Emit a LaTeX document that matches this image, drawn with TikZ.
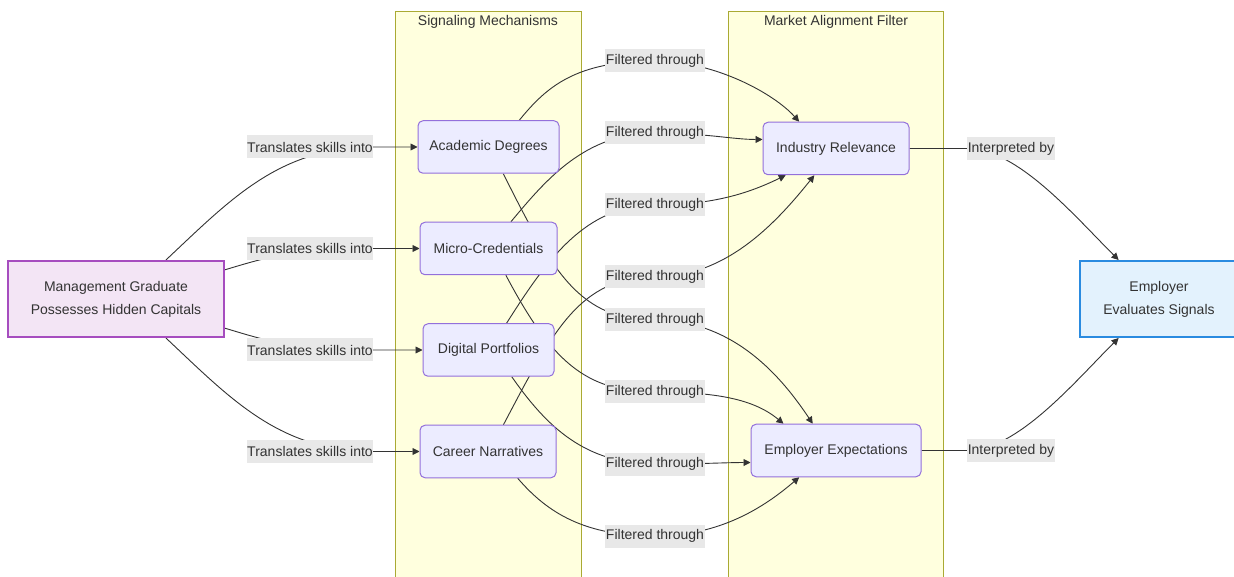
\documentclass[tikz,border=0pt]{standalone}
\usepackage{fontspec}
\setmainfont{Liberation Sans}
\usetikzlibrary{arrows.meta}
\pgfdeclarelayer{bg}
\pgfdeclarelayer{edges}
\pgfsetlayers{bg,edges,main}

\definecolor{clusterfill}{HTML}{FFFFDE}
\definecolor{clusterline}{HTML}{AAAA33}
\definecolor{nodefill}{HTML}{ECECFF}
\definecolor{nodeline}{HTML}{9370DB}
\definecolor{txt}{HTML}{333333}
\definecolor{lblfill}{HTML}{E8E8E8}
\definecolor{gradfill}{HTML}{F3E5F5}
\definecolor{gradline}{HTML}{A64DBF}
\definecolor{empfill}{HTML}{E3F2FD}
\definecolor{empline}{HTML}{2A8BE0}

\begin{document}
\begin{tikzpicture}[x=1pt,y=1pt,
  font=\fontsize{14}{17}\selectfont, text=txt,
  box/.style={rectangle, rounded corners=5pt, draw=nodeline, fill=nodefill,
    line width=1pt, minimum height=52.5pt, inner sep=0pt},
  bigbox/.style={rectangle, line width=2pt, minimum width=216pt,
    minimum height=76pt, align=center, inner sep=0pt,
    font=\fontsize{14}{23}\selectfont},
  lbl/.style={fill=lblfill, inner xsep=0.5pt, inner ysep=0pt, minimum height=23pt},
  cluster/.style={draw=clusterline, fill=clusterfill, line width=1pt},
  edge/.style={draw=txt, line width=0.9pt, -{Triangle[length=7pt,width=7pt]}}
]
\useasboundingbox (0,0) rectangle (1234,576);

% subgraph frames
\begin{pgfonlayer}{bg}
  \path[cluster] (395,-10) rectangle (581,564);
  \path[cluster] (728,-10) rectangle (943,564);
\end{pgfonlayer}
\node (sigtitle) at (488,554) {Signaling Mechanisms};
\node (mkttitle) at (836,554) {Market Alignment Filter};

% end points
\node[bigbox, draw=gradline, fill=gradfill] (mg) at (116,277)
  {Management Graduate\\Possesses Hidden Capitals};
\node[bigbox, draw=empline, fill=empfill, minimum width=158pt] (emp) at (1159,277)
  {Employer\\Evaluates Signals};

% signaling mechanisms
\node[box, minimum width=141pt] (acad)  at (488.5,429)   {Academic Degrees};
\node[box, minimum width=137pt] (micro) at (488.5,327.5) {Micro-Credentials};
\node[box, minimum width=131pt] (port)  at (488.5,226)   {Digital Portfolios};
\node[box, minimum width=136pt] (narr)  at (488,124.5)   {Career Narratives};

% market alignment filter
\node[box, minimum width=146pt] (ind)  at (836,427.5) {Industry Relevance};
\node[box, minimum width=170pt] (expc) at (836,125.5) {Employer Expectations};

% edge labels
\node[lbl] (t1) at (310,429)   {Translates skills into};
\node[lbl] (t2) at (310,327.5) {Translates skills into};
\node[lbl] (t3) at (310,226)   {Translates skills into};
\node[lbl] (t4) at (310,124.5) {Translates skills into};

\node[lbl] (f1) at (655,515) {Filtered through};
\node[lbl] (f2) at (655,443) {Filtered through};
\node[lbl] (f3) at (655,371) {Filtered through};
\node[lbl] (f4) at (655,299) {Filtered through};
\node[lbl] (f5) at (655,256) {Filtered through};
\node[lbl] (f6) at (655,184) {Filtered through};
\node[lbl] (f7) at (655,112) {Filtered through};
\node[lbl] (f8) at (655,40)  {Filtered through};

\node[lbl] (i1) at (1011,427.5) {Interpreted by};
\node[lbl] (i2) at (1011,125.5) {Interpreted by};

\begin{pgfonlayer}{edges}
  % graduate to signals
  \draw[edge] (mg.38)  .. controls +(65,61)  and +(-94,0) .. (t1.east) -- (acad.west);
  \draw[edge] (mg.15)  .. controls +(40,12)  and +(-80,0) .. (t2.east) -- (micro.west);
  \draw[edge] (mg.-15) .. controls +(40,-12) and +(-80,0) .. (t3.east) -- (port.west);
  \draw[edge] (mg.-38) .. controls +(65,-61) and +(-94,0) .. (t4.east) -- (narr.west);

  % signals to industry relevance
  \draw[edge] (acad.41)  .. controls +(27,33) and +(-80,0) .. (f1.center)
              .. controls +(60,0) and +(-25,28) .. (ind.144);
  \draw[edge] (micro.50) .. controls +(35,42) and +(-70,0) .. (f2.center)
              .. controls +(50,0) and +(-30,0) .. (ind.173);
  \draw[edge] (port.56)  .. controls +(40,63) and +(-70,0) .. (f3.center)
              .. controls +(60,0) and +(-35,-17) .. (ind.208);
  \draw[edge] (narr.60)  .. controls +(50,95) and +(-75,0) .. (f4.center)
              .. controls +(70,0) and +(-40,-50) .. (ind.231);

  % signals to employer expectations
  \draw[edge] (acad.-61)  .. controls +(50,-100) and +(-75,0) .. (f5.center)
              .. controls +(80,0) and +(-30,45) .. (expc.131);
  \draw[edge] (micro.-57) .. controls +(45,-85) and +(-70,0) .. (f6.center)
              .. controls +(60,0) and +(-30,25) .. (expc.153);
  \draw[edge] (port.-49)  .. controls +(35,-50) and +(-70,0) .. (f7.center)
              .. controls +(50,0) and +(-26,0) .. (expc.188);
  \draw[edge] (narr.-42)  .. controls +(30,-35) and +(-70,0) .. (f8.center)
              .. controls +(65,0) and +(-35,-30) .. (expc.216);

  % filters to employer
  \draw[edge] (ind.east)  -- (i1.west) .. controls +(50,0) and +(-45,45)  .. (emp.136);
  \draw[edge] (expc.east) -- (i2.west) .. controls +(50,0) and +(-45,-45) .. (emp.224);
\end{pgfonlayer}
\end{tikzpicture}
\end{document}
